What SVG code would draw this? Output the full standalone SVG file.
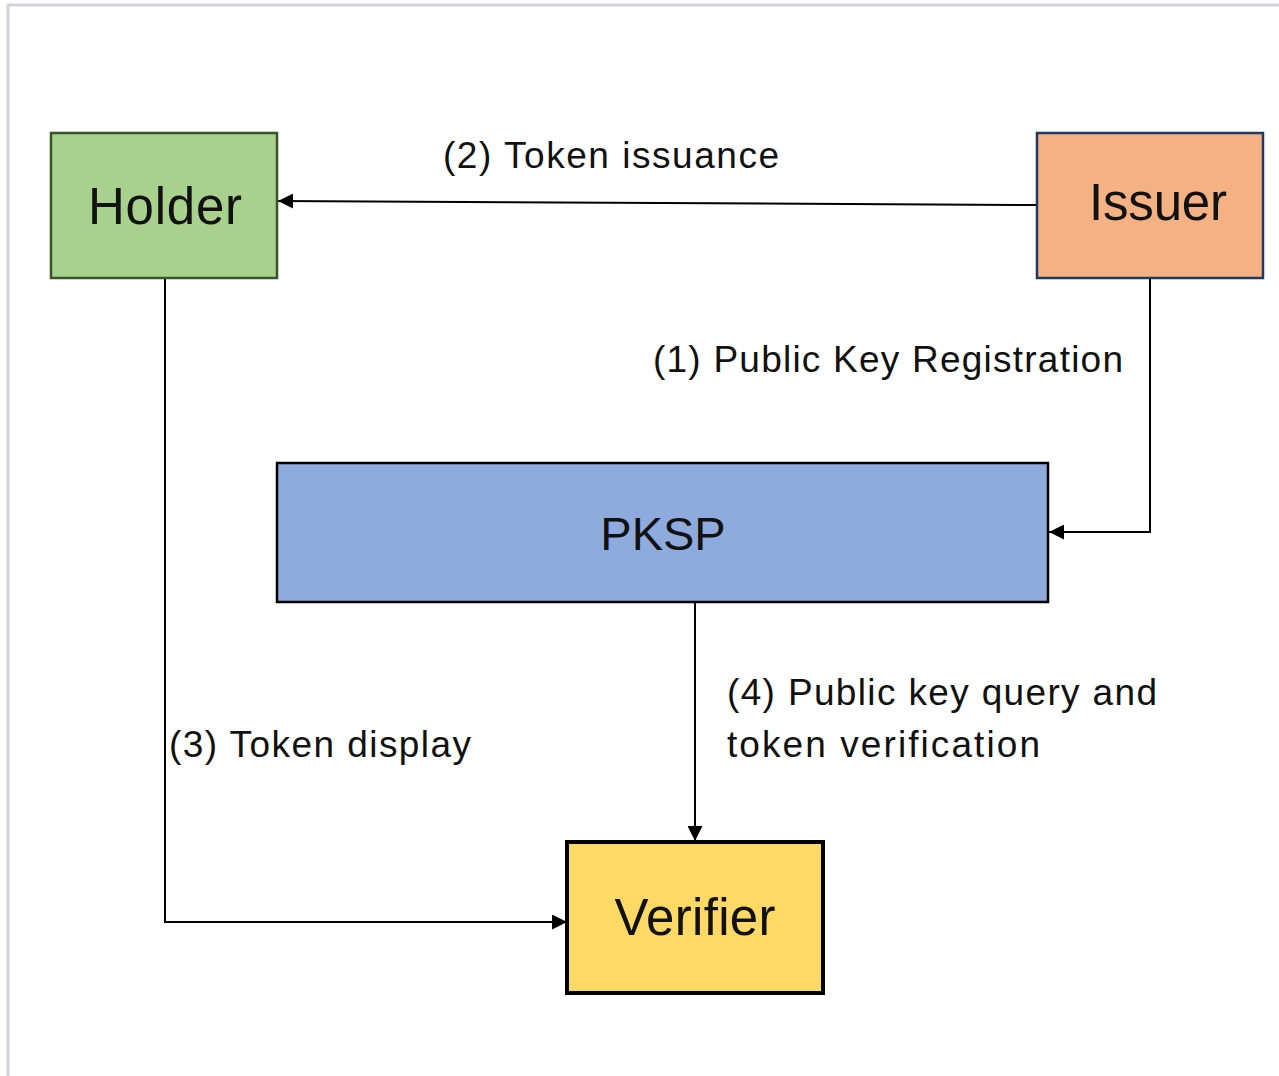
<svg xmlns="http://www.w3.org/2000/svg" width="1279" height="1076" viewBox="0 0 1279 1076">
<style>
.lbl{font-family:"Liberation Sans",Arial,sans-serif;font-size:37px;fill:#111}
.nt{font-family:"Liberation Sans",Arial,sans-serif;font-size:51px;fill:#111;text-anchor:middle}
.cn{fill:none;stroke:#000;stroke-width:2}
</style>
<defs>
<marker id="a2" viewBox="0 0 10 10" refX="10" refY="5" markerWidth="15" markerHeight="15" markerUnits="userSpaceOnUse" orient="auto"><path d="M0,0 L10,5 L0,10 z" fill="#000"/></marker>
</defs>
<rect width="1279" height="1076" fill="#fff"/>
<path d="M8,1076 V5 H1279" fill="none" stroke="#d2d2da" stroke-width="3"/>
<g id="connectors">
<path class="cn" d="M1037,205 L278,201" marker-end="url(#a2)"/>
<path class="cn" d="M1150,278 V532 H1049" marker-end="url(#a2)"/>
<path class="cn" d="M695,602 V841" marker-end="url(#a2)"/>
<path class="cn" d="M165,278 V922 H567" marker-end="url(#a2)"/>
<text class="lbl" x="443" y="168" textLength="336">(2) Token issuance</text>
<text class="lbl" x="653" y="372" textLength="470">(1) Public Key Registration</text>
<text class="lbl" x="169" y="757" textLength="302">(3) Token display</text>
<text class="lbl" x="727" y="705" textLength="430">(4) Public key query and</text>
<text class="lbl" x="727" y="757" textLength="313">token verification</text>
</g>
<g id="holder">
<rect x="51" y="133" width="226" height="145" fill="#a9d18e" stroke="#375623" stroke-width="2.5"/>
<text class="nt" x="165" y="224" textLength="154">Holder</text>
</g>
<g id="issuer">
<rect x="1037" y="133" width="226" height="145" fill="#f4b183" stroke="#1f3864" stroke-width="2.5"/>
<text class="nt" x="1158" y="220" textLength="138">Issuer</text>
</g>
<g id="pksp">
<rect x="277" y="463" width="771" height="139" fill="#8faadc" stroke="#000" stroke-width="2.5"/>
<text class="nt" x="663" y="550" style="font-size:47px">PKSP</text>
</g>
<g id="verifier">
<rect x="567" y="842" width="256" height="151" fill="#ffd966" stroke="#000" stroke-width="4"/>
<text class="nt" x="695" y="935" textLength="161">Verifier</text>
</g>
</svg>
